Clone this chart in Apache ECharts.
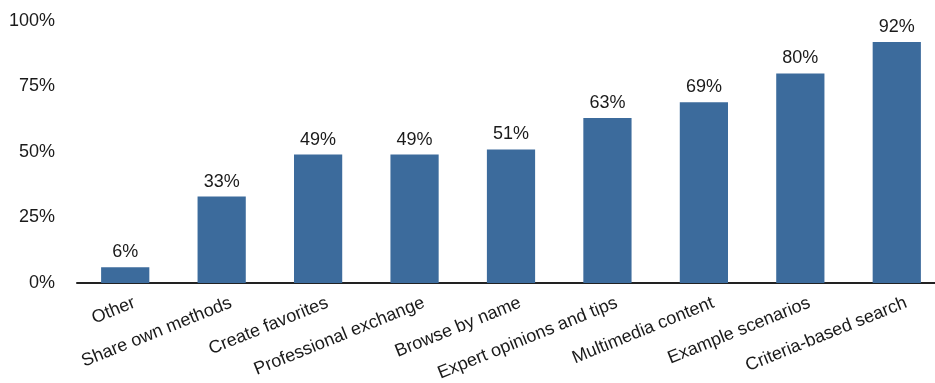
<!DOCTYPE html>
<html>
<head>
<meta charset="utf-8">
<script src="https://cdn.jsdelivr.net/npm/echarts@6/dist/echarts.min.js"></script>
<style>html,body{margin:0;padding:0;background:#fff}#c{width:935px;height:383px}</style>
</head>
<body>
<div id="c"></div>
<script>
const categories = ["Other","Share own methods","Create favorites","Professional exchange","Browse by name","Expert opinions and tips","Multimedia content","Example scenarios","Criteria-based search"];
const values = [6,33,49,49,51,63,69,80,92];
const yTicks = [0,25,50,75,100];

const FONT = 'Liberation Sans, Arial, Helvetica, sans-serif';
const chart = echarts.init(document.getElementById('c'));
chart.setOption({
  animation:false,
  grid:{left:77,width:868,top:21,height:262,containLabel:false,outerBoundsMode:'none'},
  xAxis:{
    type:'category',
    data:categories,
    axisTick:{show:false},
    axisLine:{show:true,onZero:false,lineStyle:{color:'#222',width:2}},
    axisLabel:{rotate:22,interval:0,margin:23,padding:[0,-10,0,0],color:'#1a1a1a',fontSize:18,fontFamily:FONT}
  },
  yAxis:{
    type:'value',min:yTicks[0],max:yTicks[yTicks.length-1],interval:25,
    splitLine:{show:true,lineStyle:{width:2,color:['#222','rgba(0,0,0,0)','rgba(0,0,0,0)','rgba(0,0,0,0)','rgba(0,0,0,0)']}},
    axisLine:{show:false},axisTick:{show:false},
    axisLabel:{formatter:'{value}%',margin:22,color:'#1a1a1a',fontSize:18,fontFamily:FONT}
  },
  series:[{
    type:'bar',data:values,barWidth:'50%',
    itemStyle:{color:'#3c6b9c'},
    label:{show:true,position:'top',distance:6,formatter:'{c}%',color:'#1a1a1a',fontSize:18,fontFamily:FONT}
  }]
});
</script>
</body>
</html>
